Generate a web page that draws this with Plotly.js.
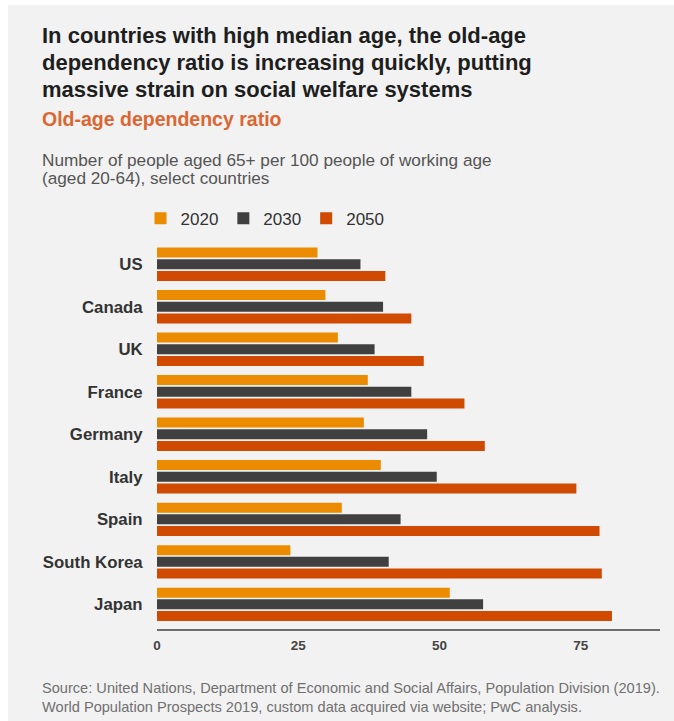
<!DOCTYPE html>
<html>
<head>
<meta charset="utf-8">
<script src="https://cdn.plot.ly/plotly-3.0.1.min.js"></script>
<style>
  html, body { margin: 0; padding: 0; background: #ffffff; }
  #chart { position: absolute; left: 8px; top: 5px; width: 666px; height: 716px; }
</style>
</head>
<body>
<div id="chart"></div>
<script>
// ---- Data ----
const countries = ["US", "Canada", "UK", "France", "Germany", "Italy", "Spain", "South Korea", "Japan"];
const years = ["2020", "2030", "2050"];
const values2020 = [28.4, 29.8, 32.0, 37.3, 36.6, 39.6, 32.7, 23.6, 51.8];
const values2030 = [36.0, 40.0, 38.5, 45.0, 47.8, 49.5, 43.1, 41.0, 57.7];
const values2050 = [40.4, 45.0, 47.2, 54.4, 58.0, 74.2, 78.3, 78.7, 80.5];
const xTicks = [0, 25, 50, 75];

const titleLines = [
  "In countries with high median age, the old-age",
  "dependency ratio is increasing quickly, putting",
  "massive strain on social welfare systems"
];
const subtitle = "Old-age dependency ratio";
const descLines = [
  "Number of people aged 65+ per 100 people of working age",
  "(aged 20-64), select countries"
];
const sourceLines = [
  "Source: United Nations, Department of Economic and Social Affairs, Population Division (2019).",
  "World Population Prospects 2019, custom data acquired via website; PwC analysis."
];

// ---- Styles ----
const colors = ["#eb8c00", "#404041", "#d04a02"];
const FONT = "Liberation Sans, Arial, Helvetica, sans-serif";

const W = 666, H = 716;
const M = { l: 148.5, r: 14, t: 238.25, b: 91.7 };
const PW = W - M.l - M.r, PH = H - M.t - M.b;
// convert page pixel coordinates (full image) to paper coords
const px = X => ((X - 8) - M.l) / PW;
const py = Y => (M.t + PH - (Y - 5)) / PH;

const series = [values2020, values2030, values2050];
const traces = series.map((vals, i) => ({
  type: "bar",
  orientation: "h",
  name: years[i],
  x: vals,
  y: countries,
  marker: { color: colors[i] },
  hoverinfo: "x+name"
}));

const annotations = [];
const addText = (text, X, Y, size, color, bold) => {
  annotations.push({
    xref: "paper", yref: "paper",
    x: px(X), y: py(Y),
    xanchor: "left", yanchor: "middle",
    showarrow: false,
    align: "left",
    text: bold ? "<b>" + text + "</b>" : text,
    font: { family: FONT, size: size, color: color }
  });
};
titleLines.forEach((t, i) => addText(t, 39, [35.5, 62.5, 89.5][i], 22, "#1e1e1e", true));
addText(subtitle, 39, 119, 19.5, "#dc6632", true);
descLines.forEach((t, i) => addText(t, 39, [160, 178.5][i], 17.2, "#555555", false));
sourceLines.forEach((t, i) => addText(t, 39, [688, 707.5][i], 14.6, "#707070", false));

const layout = {
  width: W, height: H,
  margin: M,
  paper_bgcolor: "#f2f2f2",
  plot_bgcolor: "#f2f2f2",
  barmode: "group",
  bargap: 0.175,
  bargroupgap: 0.145,
  showlegend: true,
  legend: {
    orientation: "h",
    x: px(140), xanchor: "left",
    y: py(219), yanchor: "middle",
    traceorder: "normal",
    font: { family: FONT, size: 17, color: "#333333" },
    bgcolor: "rgba(0,0,0,0)",
    itemwidth: 30
  },
  xaxis: {
    range: [0, 89],
    tickvals: xTicks,
    ticktext: xTicks.map(String),
    showgrid: false,
    zeroline: false,
    showline: true,
    linecolor: "#6d6d6d",
    linewidth: 2,
    ticks: "outside",
    ticklen: 3,
    tickcolor: "rgba(0,0,0,0)",
    tickfont: { family: FONT, size: 13.5, color: "#444444", weight: "bold" },
    fixedrange: true
  },
  yaxis: {
    type: "category",
    range: [8.58, -0.5],
    showgrid: false,
    zeroline: false,
    showline: false,
    ticks: "outside",
    ticklen: 10,
    tickcolor: "rgba(0,0,0,0)",
    tickfont: { family: FONT, size: 16.8, color: "#333333", weight: "bold" },
    fixedrange: true
  },
  annotations: annotations
};

Plotly.newPlot("chart", traces, layout, { displayModeBar: false, staticPlot: false });
</script>
</body>
</html>
